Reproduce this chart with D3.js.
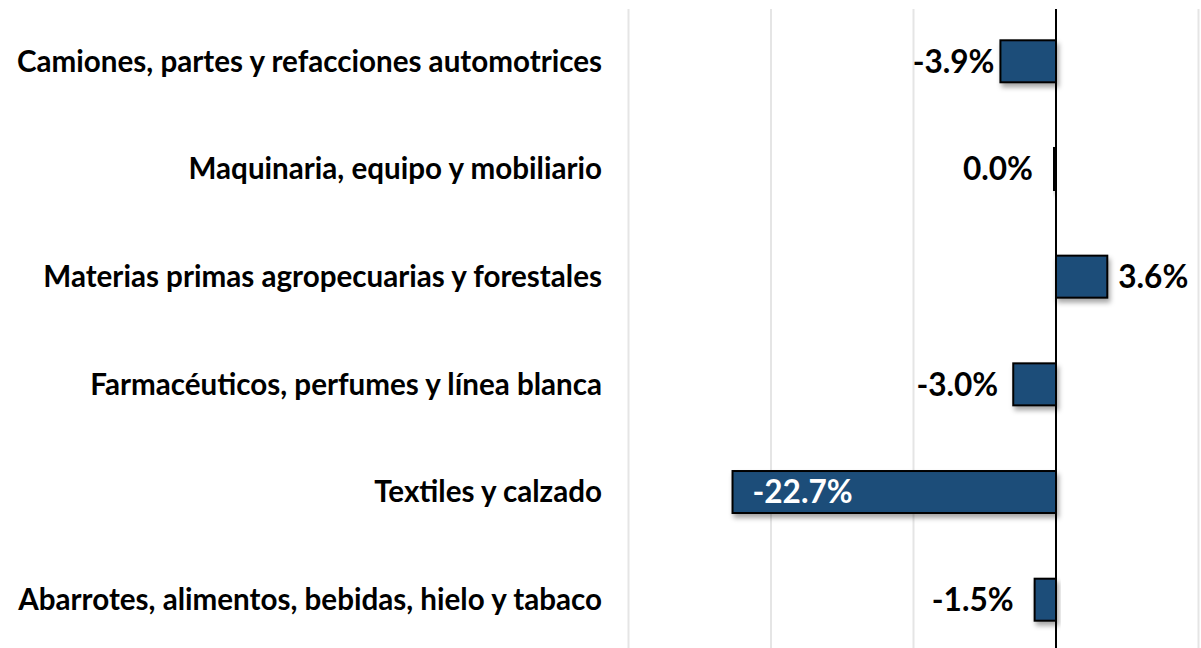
<!DOCTYPE html>
<html>
<head>
<meta charset="utf-8">
<script src="https://cdn.jsdelivr.net/npm/d3@7"></script>
<style>
  body { margin: 0; background: #fff; }
  text { font-family: Lato, "Open Sans", sans-serif; font-weight: bold; }
</style>
</head>
<body>
<svg width="1201" height="648"></svg>
<script>
var svg = d3.select("svg");

// data
var categories = [
    "Camiones, partes y refacciones automotrices",
    "Maquinaria, equipo y mobiliario",
    "Materias primas agropecuarias y forestales",
    "Farmacéuticos, perfumes y línea blanca",
    "Textiles y calzado",
    "Abarrotes, alimentos, bebidas, hielo y tabaco"
];
var values = [-3.9, 0.0, 3.6, -3.0, -22.7, -1.5];
var gridTicks = [-30, -20, -10, 10];

// gap between bar end and its label (px), as placed in the original
var labelGap = [6, 23, 11, 15, 20, 21];

var x = d3.scaleLinear().domain([-30, 10]).range([628.5, 1198.5]);
var y = d3.scaleBand().domain(categories).range([8, 653]).paddingInner(0.61).paddingOuter(0.3);

// shadow filter
var defs = svg.append("defs");
var f = defs.append("filter").attr("id", "shadow")
    .attr("x", "-20%").attr("y", "-30%").attr("width", "140%").attr("height", "170%");
f.append("feDropShadow")
    .attr("dx", 2).attr("dy", 4).attr("stdDeviation", 2.5)
    .attr("flood-color", "#000").attr("flood-opacity", 0.35);

// gridlines
svg.append("g")
    .selectAll("line")
    .data(gridTicks)
    .enter()
    .append("line")
    .attr("x1", function(d) { return x(d); })
    .attr("x2", function(d) { return x(d); })
    .attr("y1", 9)
    .attr("y2", 648)
    .attr("stroke", "#e5e5e5")
    .attr("stroke-width", 2);

// bars
svg.append("g")
    .selectAll("rect")
    .data(values)
    .enter()
    .append("rect")
    .attr("x", function(d) { return d === 0 ? x(0) - 2.5 : x(Math.min(0, d)); })
    .attr("width", function(d) { return Math.max(Math.abs(x(d) - x(0)), 0.5); })
    .attr("y", function(d, i) { return y(categories[i]); })
    .attr("height", y.bandwidth())
    .attr("fill", "#1f4e79")
    .attr("stroke", "#000")
    .attr("stroke-width", 2)
    .attr("filter", "url(#shadow)");

// zero line
svg.append("line")
    .attr("x1", x(0)).attr("x2", x(0))
    .attr("y1", 9).attr("y2", 648)
    .attr("stroke", "#000")
    .attr("stroke-width", 2);

// category labels
var catLabels = svg.append("g")
    .selectAll("text")
    .data(categories)
    .enter()
    .append("text")
    .attr("x", 602)
    .attr("y", function(d) { return y(d) + y.bandwidth() / 2; })
    .attr("dy", "0.35em")
    .attr("text-anchor", "end")
    .attr("fill", "#000")
    .style("font-size", "24px")
    .text(function(d) { return d; });

// fit font size so the longest label spans like the original
var longest = catLabels.filter(function(d, i) { return i === 5; }).node();
var w = longest.getComputedTextLength();
var fs = 24 * 584 / w;
catLabels.style("font-size", fs + "px");

// value labels
svg.append("g")
    .selectAll("text")
    .data(values)
    .enter()
    .append("text")
    .attr("x", function(d, i) {
        if (d < -10) return x(d) + labelGap[i];
        if (d <= 0) return Math.min(x(d), x(0)) - labelGap[i];
        return x(d) + labelGap[i];
    })
    .attr("y", function(d, i) { return y(categories[i]) + y.bandwidth() / 2; })
    .attr("dy", "0.36em")
    .attr("text-anchor", function(d) {
        if (d < -10) return "start";
        return d <= 0 ? "end" : "start";
    })
    .attr("fill", function(d) { return d < -10 ? "#fff" : "#000"; })
    .style("font-size", (fs + 2) + "px")
    .text(function(d) { return d.toFixed(1) + "%"; });
</script>
</body>
</html>
